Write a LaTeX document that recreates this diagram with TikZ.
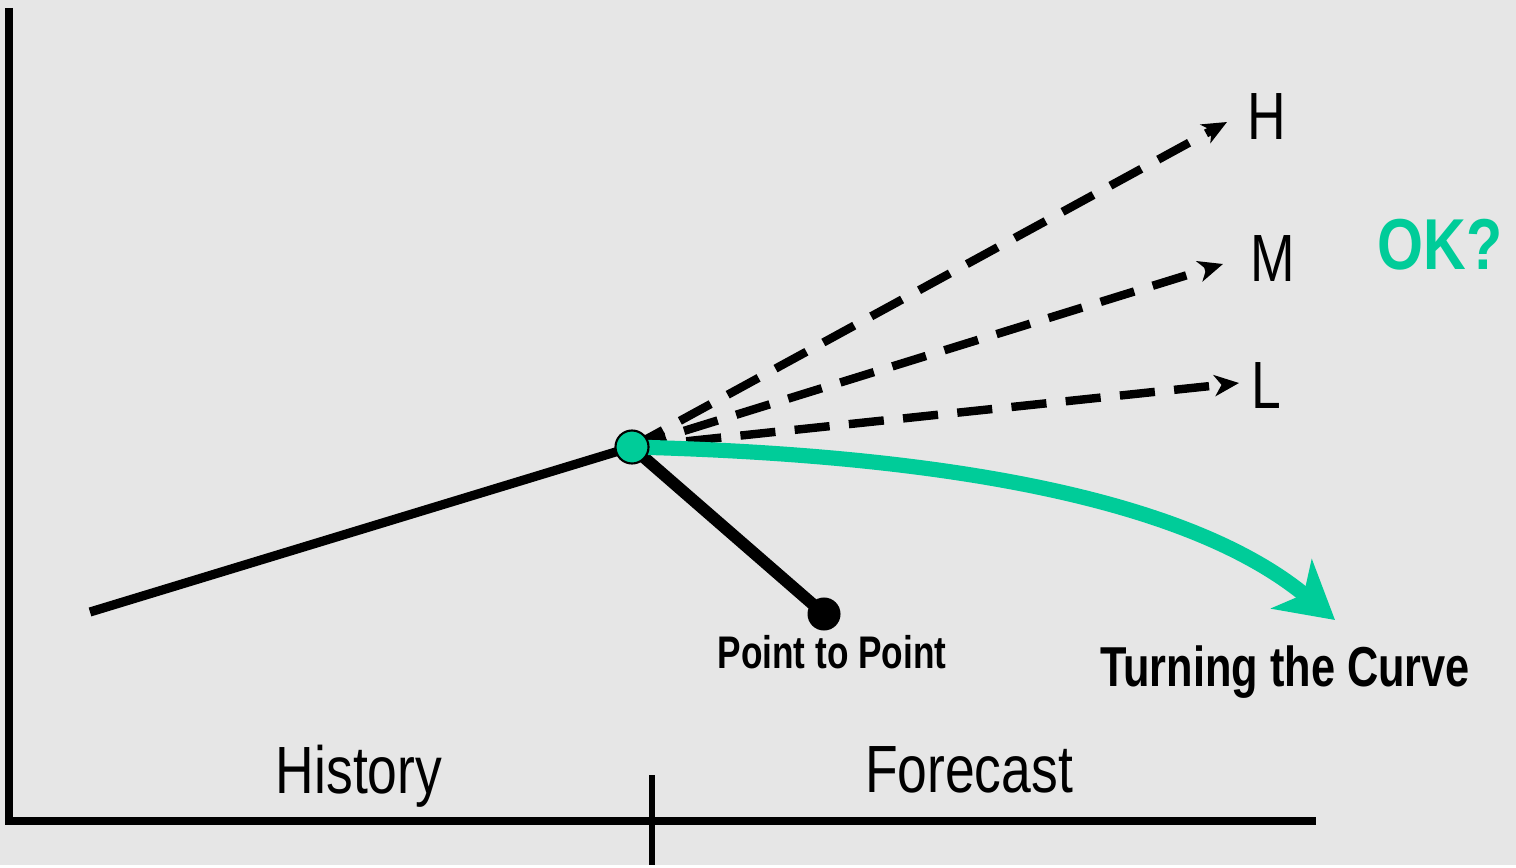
\documentclass[tikz,border=0pt]{standalone}
\usepackage{fontspec}
\setmainfont{Liberation Sans}
\usepackage{xcolor}
\definecolor{okgreen}{HTML}{00CC99}
\definecolor{bggray}{HTML}{E6E6E6}
\usetikzlibrary{arrows.meta}

\begin{document}
\begin{tikzpicture}[x=0.01cm,y=-0.01cm,>={Stealth[length=7pt,width=6pt,inset=2pt]},
  lbl/.style={font=\fontsize{19}{19}\selectfont,xscale=0.8,anchor=base},
  tag/.style={font=\bfseries\fontsize{13}{13}\selectfont,xscale=0.77,anchor=base},
  guess/.style={dash pattern=on 10pt off 5.5pt,line width=2.4pt,->}]
\fill[bggray](0,0)rectangle(1516,865);
% axes
\coordinate(top)at(9,8);\coordinate(corner)at(9,821);\coordinate(xend)at(1316,821);
\coordinate(tickup)at(652,775);\coordinate(tickdn)at(652,865);
\draw[line width=2pt](top)--(corner)--(xend);
\draw[line width=1.5pt](tickup)--(tickdn);
\node[lbl](hist)at(359,793){History};
\node[lbl](fore)at(969,792){Forecast};
% history and point to point
\coordinate(start)at(90,612);\coordinate(s)at(632,447);
\draw[line width=2.6pt](start)--(s);
\node[circle,fill=black,inner sep=0pt,minimum size=0.33cm](p2p)at(824,614){};
\draw[line width=3.4pt](s)--(p2p.center);
\node[tag](p2plbl)at(832,668){Point to Point};
% scenarios
\coordinate(hi)at(1227,122);\coordinate(mid)at(1223,264);\coordinate(lo)at(1239,383);
\draw[guess](s)--(hi);
\draw[guess](s)--(mid);
\draw[guess](s)--(lo);
\node[lbl,anchor=center](H)at(1267,117){H};
\node[lbl,anchor=center](M)at(1273,259){M};
\node[lbl,anchor=center](L)at(1266,386){L};
\node[font=\bfseries\fontsize{20.5}{20.5}\selectfont,xscale=0.82,anchor=base,text=okgreen](ok)at(1440,270){OK?};
% turning the curve
\coordinate(turn)at(1335,620);
\draw[okgreen,line width=4.3pt,-{Stealth[length=16pt,width=18pt,inset=4.5pt]}](s)..controls(950,455)and(1190,500)..(turn);
\node[font=\bfseries\fontsize{16}{16}\selectfont,xscale=0.77,anchor=base](tcl)at(1285,686){Turning the Curve};
\node[circle,fill=okgreen,draw=black,line width=0.6pt,inner sep=0pt,minimum size=0.33cm](split)at(s){};
\end{tikzpicture}
\end{document}
